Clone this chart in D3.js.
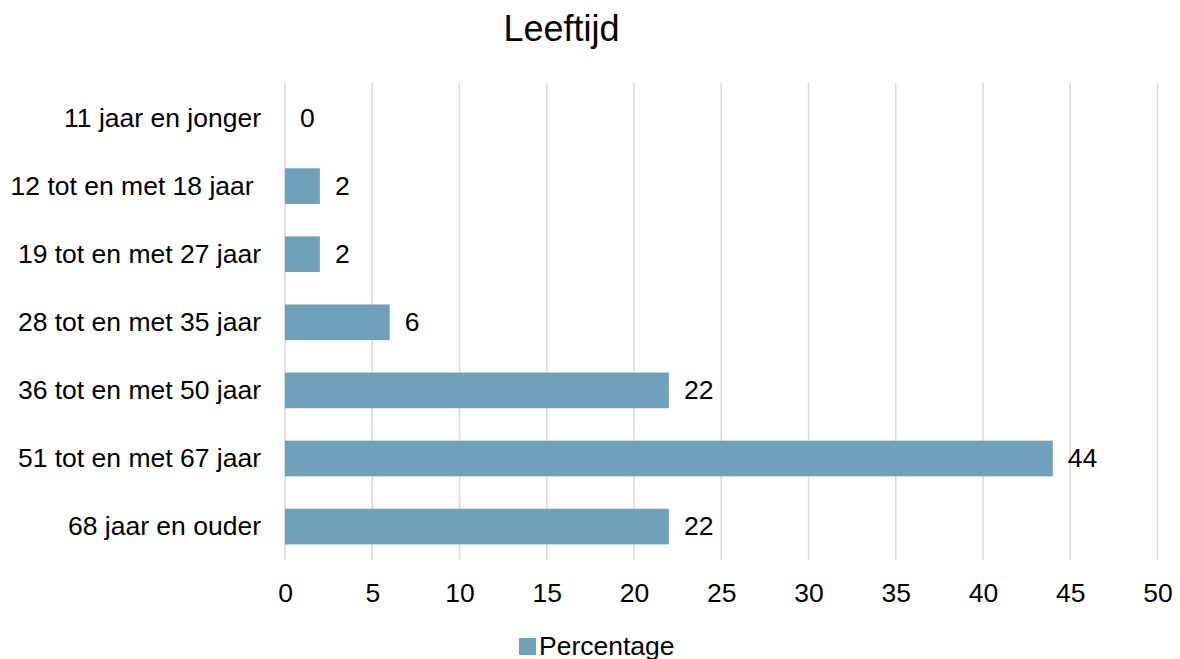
<!DOCTYPE html>
<html>
<head>
<meta charset="utf-8">
<script src="https://cdn.jsdelivr.net/npm/d3@7"></script>
<style>
  html, body { margin: 0; padding: 0; background: #fff; }
  svg { display: block; font-family: "Liberation Sans", Arial, sans-serif; }
  text { white-space: pre; }
</style>
</head>
<body>
<svg id="chart" width="1180" height="659"></svg>
<script>
const title = "Leeftijd";
const categories = [
  "11 jaar en jonger",
  "12 tot en met 18 jaar ",
  "19 tot en met 27 jaar",
  "28 tot en met 35 jaar",
  "36 tot en met 50 jaar",
  "51 tot en met 67 jaar",
  "68 jaar en ouder"
];
const values = [0, 2, 2, 6, 22, 44, 22];
const xTicks = [0, 5, 10, 15, 20, 25, 30, 35, 40, 45, 50];
const seriesName = "Percentage";

const svg = d3.select("#chart");
const plotLeft = 285, plotRight = 1157.5, plotTop = 84, plotBottom = 560.6;
const barColor = "#6fa2ba";
const fs = 26.5;

const x = d3.scaleLinear().domain([0, 50]).range([plotLeft, plotRight]);
const y = d3.scaleBand().domain(categories).range([plotTop, plotBottom])
  .paddingInner(0.476).paddingOuter(0.238);

// title
svg.append("text")
  .attr("x", 561.5).attr("y", 40.5)
  .attr("text-anchor", "middle")
  .attr("font-size", 36)
  .attr("fill", "#000")
  .text(title);

// gridlines
svg.append("g").selectAll("line").data(xTicks).join("line")
  .attr("x1", d => x(d)).attr("x2", d => x(d))
  .attr("y1", 83).attr("y2", 560)
  .attr("stroke", "#d9d9d9").attr("stroke-width", 1.5);

// x tick labels via axis
const xAxis = d3.axisBottom(x).tickValues(xTicks).tickSize(0).tickPadding(0).tickFormat(d3.format("d"));
const gx = svg.append("g").attr("transform", "translate(0,602)").call(xAxis);
gx.select(".domain").remove();
gx.selectAll("text").attr("font-size", fs).attr("font-family", "Liberation Sans, Arial, sans-serif")
  .attr("fill", "#000").attr("dy", 0).attr("y", 0);

// y category labels via axis
const yAxis = d3.axisLeft(y).tickSize(0).tickPadding(24);
const gy = svg.append("g").attr("transform", `translate(${plotLeft},0)`).call(yAxis);
gy.select(".domain").remove();
gy.selectAll("text").attr("font-size", fs).attr("font-family", "Liberation Sans, Arial, sans-serif")
  .attr("fill", "#000").attr("dy", "0.33em");

// bars
svg.append("g").selectAll("rect").data(values).join("rect")
  .attr("x", x(0))
  .attr("y", (d, i) => y(categories[i]))
  .attr("width", d => x(d) - x(0))
  .attr("height", y.bandwidth())
  .attr("fill", barColor);

// value labels
svg.append("g").selectAll("text").data(values).join("text")
  .attr("x", d => x(d) + 15)
  .attr("y", (d, i) => y(categories[i]) + y.bandwidth() / 2)
  .attr("dy", "0.33em")
  .attr("font-size", fs)
  .attr("fill", "#000")
  .text(d => d);

// legend
const lg = svg.append("g");
lg.append("rect").attr("x", 519).attr("y", 638).attr("width", 17).attr("height", 17).attr("fill", barColor);
lg.append("text").attr("x", 539).attr("y", 655).attr("font-size", fs).attr("fill", "#000").text(seriesName);
</script>
</body>
</html>
